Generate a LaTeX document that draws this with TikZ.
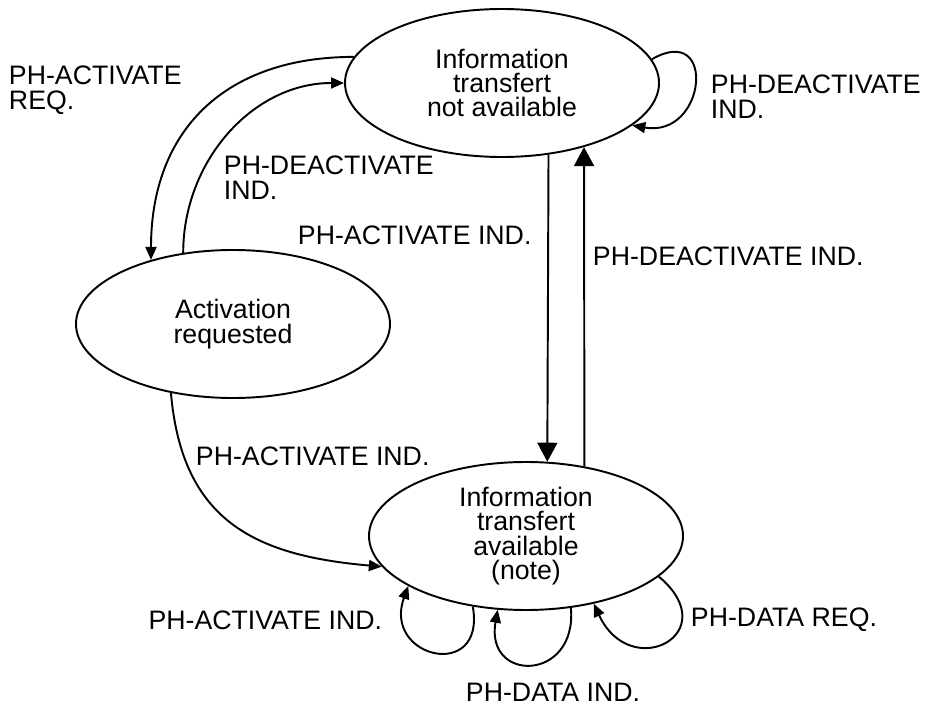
\documentclass[tikz,border=0pt]{standalone}
\usepackage{fontspec}
\setmainfont{Liberation Sans}
\usetikzlibrary{shapes.geometric,arrows.meta}

\begin{document}
\begin{tikzpicture}[line width=1.1pt, >={Triangle[length=0.26cm,width=0.22cm]}]
	\useasboundingbox (0,0) rectangle (18.5,14.22);
	
	\tikzstyle{state}=[draw,shape=ellipse,minimum width=6.28cm,minimum height=2.96cm,inner sep=0pt,align=center,font=\fontsize{15.2}{13.9}\selectfont]
	
	\tikzstyle{lbl}=[inner sep=0pt,align=left,font=\fontsize{15.2}{13.9}\selectfont]
	
	\tikzstyle{big}=[-{Triangle[length=0.38cm,width=0.4cm]}]
	
	\node[state](notAvail) at (10.04,12.56){Information\\transfert\\not available};
	\node[state](actReq) at (4.66,7.74){Activation\\requested};
	\node[state](avail) at (10.52,3.5){Information\\transfert\\available\\(note)};
	
	\node[lbl,anchor=north west](actReqText) at (0.16,12.92){PH-ACTIVATE\\REQ.};
	\node[lbl,anchor=north west](deactText) at (4.46,11.12){PH-DEACTIVATE\\IND.};
	\node[lbl,anchor=west](actIndText) at (5.94,9.52){PH-ACTIVATE IND.};
	\node[lbl,anchor=west](deactIndText) at (11.84,9.1){PH-DEACTIVATE IND.};
	\node[lbl,anchor=north west](deactLoopText) at (14.2,12.74){PH-DEACTIVATE\\IND.};
	\node[lbl,anchor=west](actAvailText) at (3.9,5.1){PH-ACTIVATE IND.};
	\node[lbl,anchor=east](actLoopText) at (7.66,1.82){PH-ACTIVATE IND.};
	\node[lbl,anchor=west](dataIndText) at (9.3,0.38){PH-DATA IND.};
	\node[lbl,anchor=west](dataReqText) at (13.8,1.82){PH-DATA REQ.};
	
	\draw[->] (notAvail.170.5) to[out=180,in=90,looseness=1.15] (actReq.142);
	\draw[->] (actReq.125.5) to[out=90,in=180] (notAvail.180);
	\draw[->] (notAvail.9.6) to[out=30,in=-10,looseness=2.8] (notAvail.-18);
	
	\draw[big] (notAvail.-57.6) -- (avail.74);
	\draw[big] (avail.50.5) -- (notAvail.-38);
	
	\draw[->] (actReq.-132) to[out=-85,in=175,looseness=1.2] (avail.-168.7);
	
	\draw[->] (avail.-127.2) to[out=-80,in=-110,looseness=2.9] (avail.-157.2);
	\draw[->] (avail.-58.2) to[out=-85,in=-100,looseness=2.6] (avail.-111);
	\draw[->] (avail.-17.7) to[out=-40,in=-65,looseness=3.2] (avail.-45);
	
\end{tikzpicture}
\end{document}
